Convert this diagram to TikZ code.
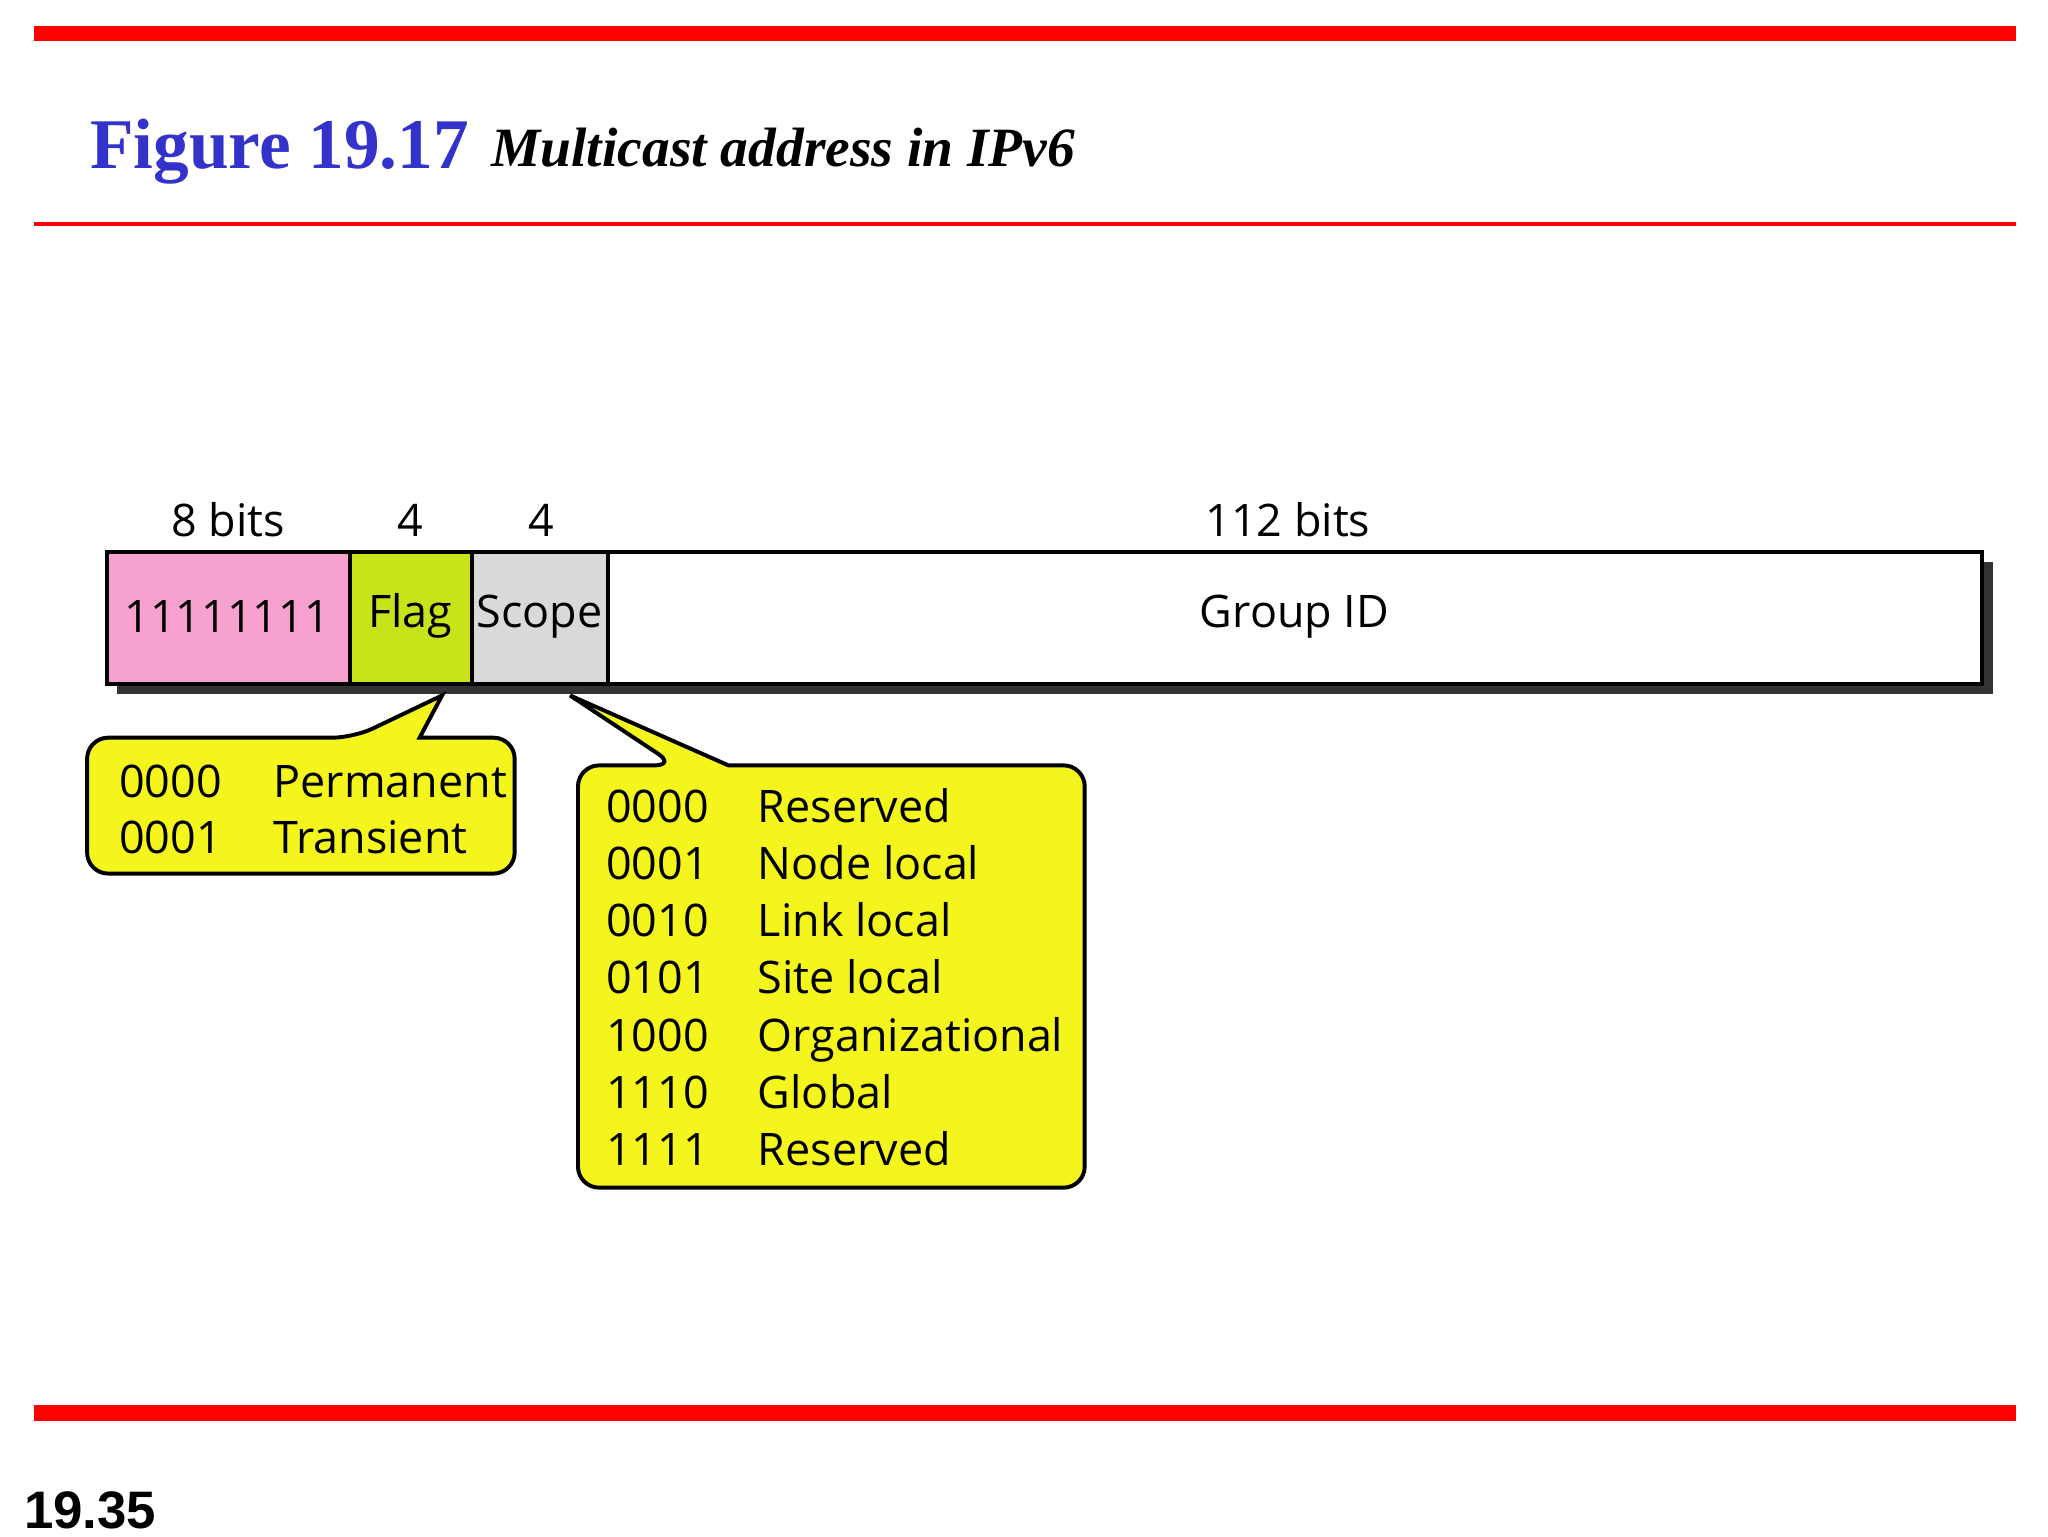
\documentclass[tikz,border=0pt]{standalone}
\usepackage{fontspec}
\setmainfont{Liberation Serif}
\newfontfamily\dsans{Open Sans}
\newfontfamily\psans{Liberation Sans}
\definecolor{redl}{HTML}{FF0000}
\definecolor{figblue}{HTML}{3333CC}
\definecolor{pinkf}{HTML}{F7A1CF}
\definecolor{greenf}{HTML}{C9E31B}
\definecolor{grayf}{HTML}{D9D9D9}
\definecolor{yel}{HTML}{F5F51E}
\begin{document}
\begin{tikzpicture}[x=0.5pt,y=-0.5pt,
  lbl/.style={font=\dsans\fontsize{17}{20}\selectfont,inner sep=0pt},
  cl/.style={font=\dsans\fontsize{17}{20}\selectfont,inner sep=0pt,anchor=base west},
  callout/.style={draw=black,line width=1.5pt,fill=yel}]
\useasboundingbox (0,0) rectangle (1552,1164);
\fill[redl] (26,20) rectangle (1528,31);
\fill[redl] (26,168) rectangle (1528,171);
\fill[redl] (26,1065) rectangle (1528,1077);
\node[anchor=base west,inner sep=0pt,text=figblue,font=\bfseries\fontsize{27}{30}\selectfont] (fig) at (68,128) {Figure 19.17};
\node[anchor=base west,inner sep=0pt,font=\bfseries\itshape\fontsize{21}{24}\selectfont] (cap) at (372,126) {Multicast address in IPv6};
\node[anchor=base west,inner sep=0pt,font=\psans\bfseries\fontsize{20}{24}\selectfont] (pg) at (18,1158) {19.35};
% shadow
\fill[black!80] (89,426) rectangle (1510,526);
\fill[pinkf] (81,418) rectangle (265,518);
\fill[greenf] (265,418) rectangle (358,518);
\fill[grayf] (358,418) rectangle (461,518);
\fill[white] (461,418) rectangle (1502,518);
\draw[line width=1.5pt] (81,418) rectangle (1502,518);
\draw[line width=1.5pt] (265,418) -- (265,518) (358,418) -- (358,518) (461,418) -- (461,518);
\node[lbl] (b8) at (173,394) {8 bits};
\node[lbl] (b4a) at (311,394) {4};
\node[lbl] (b4b) at (410,394) {4};
\node[lbl] (b112) at (976,394) {112 bits};
\node[lbl] (f1) at (172,467) {11111111};
\node[lbl] (f2) at (311,467) {Flag};
\node[lbl] (f3) at (409,467) {Scope};
\node[lbl] (f4) at (981,467) {Group ID};
% callout 1
\draw[callout,rounded corners=8] (66,559) -- (268,559) [sharp corners]-- (335,527) -- (318,559) [rounded corners=8]-- (390,559) -- (390,662) -- (66,662) -- cycle;
\node[cl] (c1a) at (90,604) {0000};
\node[cl] (c1b) at (207,604) {Permanent};
\node[cl] (c1c) at (90,647) {0001};
\node[cl] (c1d) at (207,647) {Transient};
% callout 2
\draw[callout,rounded corners=8] (438,580) -- (512,580) [sharp corners]-- (432,527) -- (552,580) [rounded corners=8]-- (822,580) -- (822,900) -- (438,900) -- cycle;
\foreach \c/\t [count=\i] in {0000/Reserved,0001/Node local,0010/Link local,0101/Site local,1000/Organizational,1110/Global,1111/Reserved}{
  \node[cl] (sc\i) at (459,{623+(\i-1)*43.4}) {\c};
  \node[cl] (st\i) at (574,{623+(\i-1)*43.4}) {\t};
}
\end{tikzpicture}
\end{document}
